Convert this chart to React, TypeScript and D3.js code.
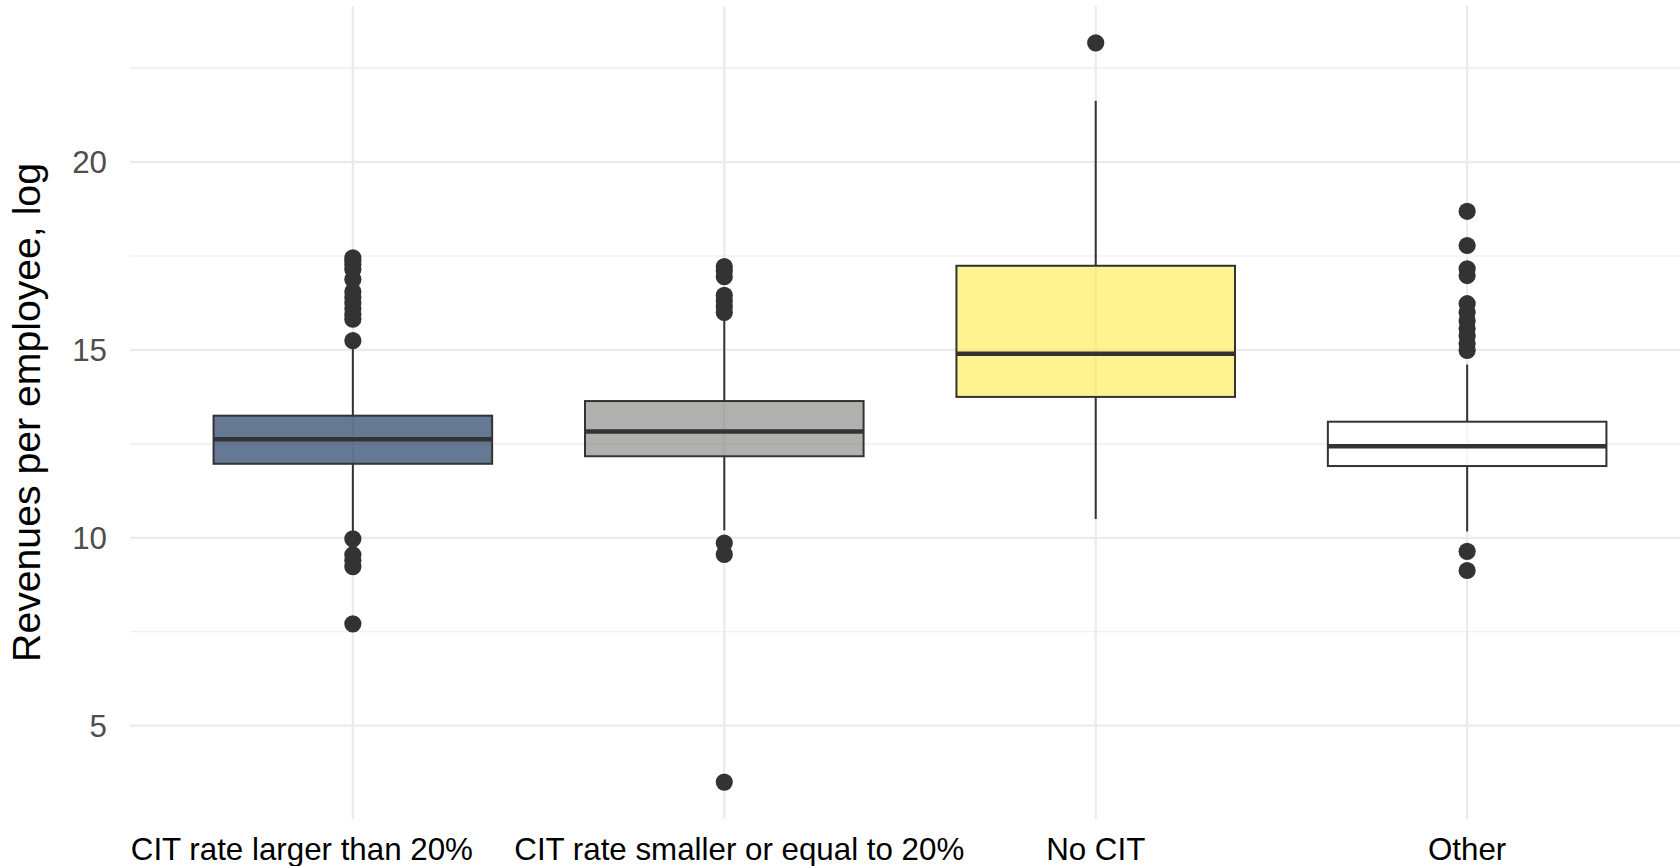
import { useMemo } from "react"
import * as d3 from "d3"

const categories = [
    "CIT rate larger than 20%",
    "CIT rate smaller or equal to 20%",
    "No CIT",
    "Other",
]
const fills = ["#00204D", "#7C7B78", "#FFEA46", "#FFFFFF"]
// labels in the original are nudged sideways so the first two don't collide
const labelNudge = [-51, 15, 0, 0]

const whiskerLow = [10.18, 10.2, 10.5, 10.17]
const q1 = [11.97, 12.17, 13.75, 11.91]
const medians = [12.62, 12.83, 14.9, 12.44]
const q3 = [13.25, 13.64, 17.24, 13.09]
const whiskerHigh = [15.05, 15.85, 21.63, 14.61]

const outliersLarger = [
    17.45, 17.38, 17.28, 17.15, 16.88, 16.55, 16.4, 16.25, 16.1, 15.95, 15.82, 15.25,
    9.97, 9.55, 9.4, 9.23, 7.71,
]
const outliersSmaller = [17.22, 17.1, 16.95, 16.45, 16.3, 16.15, 16.0, 9.86, 9.56, 3.5]
const outliersNoCit = [23.17]
const outliersOther = [
    18.69, 17.78, 17.16, 16.98, 16.23, 16.0, 15.78, 15.57, 15.37, 15.17, 14.99,
    9.64, 9.13,
]
const outliers = [outliersLarger, outliersSmaller, outliersNoCit, outliersOther]

const majorTicks = [5, 10, 15, 20]
const minorTicks = [7.5, 12.5, 17.5, 22.5]

export default function App() {
    const width = 1680
    const height = 866
    const panel = { left: 130, right: 1690, top: 6, bottom: 819 }

    const x = useMemo(
        () =>
            d3
                .scalePoint()
                .domain(categories)
                .range([panel.left, panel.right])
                .padding(0.6),
        []
    )

    const y = useMemo(() => {
        const all = [...whiskerLow, ...whiskerHigh, ...outliers.flat()]
        const lo = d3.min(all) ?? 0
        const hi = d3.max(all) ?? 1
        const pad = (hi - lo) * 0.05
        return d3
            .scaleLinear()
            .domain([lo - pad, hi + pad])
            .range([panel.bottom, panel.top])
    }, [])

    const half = x.step() * 0.75 / 2
    const ink = "#333333"
    const grid = "#EBEBEB"
    const font = "'Liberation Sans', Arial, Helvetica, sans-serif"

    return (
        <svg
            width={width}
            height={height}
            style={{ position: "absolute", left: 0, top: 0, display: "block", background: "#fff" }}
        >
            {minorTicks.map((t) => (
                <line
                    key={"mn" + t}
                    x1={panel.left}
                    x2={panel.right}
                    y1={y(t)}
                    y2={y(t)}
                    stroke={grid}
                    strokeWidth={1.1}
                />
            ))}
            {majorTicks.map((t) => (
                <line
                    key={"mj" + t}
                    x1={panel.left}
                    x2={panel.right}
                    y1={y(t)}
                    y2={y(t)}
                    stroke={grid}
                    strokeWidth={2.2}
                />
            ))}
            {categories.map((c) => (
                <line
                    key={"v" + c}
                    x1={x(c)}
                    x2={x(c)}
                    y1={panel.top}
                    y2={panel.bottom}
                    stroke={grid}
                    strokeWidth={2.2}
                />
            ))}

            {categories.map((c, i) => {
                const cx = x(c) ?? 0
                return (
                    <g key={"b" + c}>
                        <line x1={cx} x2={cx} y1={y(q3[i])} y2={y(whiskerHigh[i])} stroke={ink} strokeWidth={2} />
                        <line x1={cx} x2={cx} y1={y(q1[i])} y2={y(whiskerLow[i])} stroke={ink} strokeWidth={2} />
                        <rect
                            x={cx - half}
                            y={y(q3[i])}
                            width={half * 2}
                            height={y(q1[i]) - y(q3[i])}
                            fill={fills[i]}
                            fillOpacity={0.6}
                            stroke={ink}
                            strokeWidth={2}
                        />
                        <line
                            x1={cx - half}
                            x2={cx + half}
                            y1={y(medians[i])}
                            y2={y(medians[i])}
                            stroke={ink}
                            strokeWidth={4.5}
                        />
                        {outliers[i].map((v, j) => (
                            <circle key={j} cx={cx} cy={y(v)} r={8.6} fill={ink} />
                        ))}
                    </g>
                )
            })}

            {majorTicks.map((t) => (
                <text
                    key={"yt" + t}
                    x={107}
                    y={y(t)}
                    dy="0.35em"
                    textAnchor="end"
                    fontSize={31.3}
                    fontFamily={font}
                    fill="#4D4D4D"
                >
                    {t}
                </text>
            ))}
            {categories.map((c, i) => (
                <text
                    key={"xt" + c}
                    x={(x(c) ?? 0) + labelNudge[i]}
                    y={860}
                    textAnchor="middle"
                    fontSize={31.3}
                    fontFamily={font}
                    fill="#000"
                >
                    {c}
                </text>
            ))}
            <text
                transform={`translate(40,${(panel.top + panel.bottom) / 2}) rotate(-90)`}
                textAnchor="middle"
                fontSize={39.2}
                fontFamily={font}
                fill="#000"
            >
                Revenues per employee, log
            </text>
        </svg>
    )
}
